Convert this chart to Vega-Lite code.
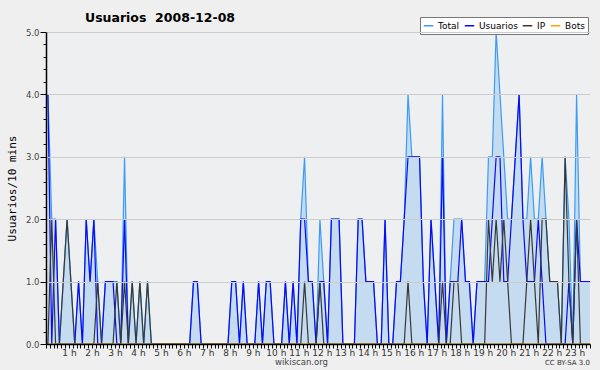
{
  "$schema": "https://vega.github.io/schema/vega-lite/v6.json",
  "width": 544,
  "height": 312,
  "autosize": {"type": "none"},
  "padding": {"left": 46, "top": 32, "right": 10, "bottom": 26},
  "background": "#efefef",
  "config": {"view": {"stroke": null, "fill": "#eeeff0"}, "font": "DejaVu Sans"},
  "title": {"text": "Usuarios\u00a0 2008-12-08", "anchor": "start", "frame": "group", "dx": 39, "dy": 15, "fontSize": 12.5, "fontWeight": "bold", "font": "DejaVu Sans", "color": "#000000", "offset": 7},
  "datasets": {"serie": [
    {"t":5,"Total":4,"Usuarios":4,"IP":0,"Bots":0},
    {"t":15,"Total":2,"Usuarios":0,"IP":2,"Bots":0},
    {"t":25,"Total":2,"Usuarios":2,"IP":0,"Bots":0},
    {"t":35,"Total":0,"Usuarios":0,"IP":0,"Bots":0},
    {"t":45,"Total":1,"Usuarios":0,"IP":1,"Bots":0},
    {"t":55,"Total":2,"Usuarios":0,"IP":2,"Bots":0},
    {"t":65,"Total":1,"Usuarios":0,"IP":1,"Bots":0},
    {"t":75,"Total":0,"Usuarios":0,"IP":0,"Bots":0},
    {"t":85,"Total":1,"Usuarios":1,"IP":0,"Bots":0},
    {"t":95,"Total":0,"Usuarios":0,"IP":0,"Bots":0},
    {"t":105,"Total":2,"Usuarios":2,"IP":0,"Bots":0},
    {"t":115,"Total":1,"Usuarios":1,"IP":0,"Bots":0},
    {"t":125,"Total":2,"Usuarios":2,"IP":0,"Bots":0},
    {"t":135,"Total":1,"Usuarios":0,"IP":1,"Bots":0},
    {"t":145,"Total":0,"Usuarios":0,"IP":0,"Bots":0},
    {"t":155,"Total":1,"Usuarios":1,"IP":0,"Bots":0},
    {"t":165,"Total":1,"Usuarios":1,"IP":0,"Bots":0},
    {"t":175,"Total":1,"Usuarios":1,"IP":0,"Bots":0},
    {"t":185,"Total":1,"Usuarios":0,"IP":1,"Bots":0},
    {"t":195,"Total":0,"Usuarios":0,"IP":0,"Bots":0},
    {"t":205,"Total":3,"Usuarios":2,"IP":1,"Bots":0},
    {"t":215,"Total":0,"Usuarios":0,"IP":0,"Bots":0},
    {"t":225,"Total":1,"Usuarios":0,"IP":1,"Bots":0},
    {"t":235,"Total":0,"Usuarios":0,"IP":0,"Bots":0},
    {"t":245,"Total":1,"Usuarios":0,"IP":1,"Bots":0},
    {"t":255,"Total":0,"Usuarios":0,"IP":0,"Bots":0},
    {"t":265,"Total":1,"Usuarios":0,"IP":1,"Bots":0},
    {"t":275,"Total":0,"Usuarios":0,"IP":0,"Bots":0},
    {"t":285,"Total":0,"Usuarios":0,"IP":0,"Bots":0},
    {"t":295,"Total":0,"Usuarios":0,"IP":0,"Bots":0},
    {"t":305,"Total":0,"Usuarios":0,"IP":0,"Bots":0},
    {"t":315,"Total":0,"Usuarios":0,"IP":0,"Bots":0},
    {"t":325,"Total":0,"Usuarios":0,"IP":0,"Bots":0},
    {"t":335,"Total":0,"Usuarios":0,"IP":0,"Bots":0},
    {"t":345,"Total":0,"Usuarios":0,"IP":0,"Bots":0},
    {"t":355,"Total":0,"Usuarios":0,"IP":0,"Bots":0},
    {"t":365,"Total":0,"Usuarios":0,"IP":0,"Bots":0},
    {"t":375,"Total":0,"Usuarios":0,"IP":0,"Bots":0},
    {"t":385,"Total":1,"Usuarios":1,"IP":0,"Bots":0},
    {"t":395,"Total":1,"Usuarios":1,"IP":0,"Bots":0},
    {"t":405,"Total":0,"Usuarios":0,"IP":0,"Bots":0},
    {"t":415,"Total":0,"Usuarios":0,"IP":0,"Bots":0},
    {"t":425,"Total":0,"Usuarios":0,"IP":0,"Bots":0},
    {"t":435,"Total":0,"Usuarios":0,"IP":0,"Bots":0},
    {"t":445,"Total":0,"Usuarios":0,"IP":0,"Bots":0},
    {"t":455,"Total":0,"Usuarios":0,"IP":0,"Bots":0},
    {"t":465,"Total":0,"Usuarios":0,"IP":0,"Bots":0},
    {"t":475,"Total":0,"Usuarios":0,"IP":0,"Bots":0},
    {"t":485,"Total":1,"Usuarios":1,"IP":0,"Bots":0},
    {"t":495,"Total":1,"Usuarios":1,"IP":0,"Bots":0},
    {"t":505,"Total":0,"Usuarios":0,"IP":0,"Bots":0},
    {"t":515,"Total":1,"Usuarios":1,"IP":0,"Bots":0},
    {"t":525,"Total":0,"Usuarios":0,"IP":0,"Bots":0},
    {"t":535,"Total":0,"Usuarios":0,"IP":0,"Bots":0},
    {"t":545,"Total":0,"Usuarios":0,"IP":0,"Bots":0},
    {"t":555,"Total":1,"Usuarios":1,"IP":0,"Bots":0},
    {"t":565,"Total":0,"Usuarios":0,"IP":0,"Bots":0},
    {"t":575,"Total":1,"Usuarios":1,"IP":0,"Bots":0},
    {"t":585,"Total":1,"Usuarios":1,"IP":0,"Bots":0},
    {"t":595,"Total":0,"Usuarios":0,"IP":0,"Bots":0},
    {"t":605,"Total":0,"Usuarios":0,"IP":0,"Bots":0},
    {"t":615,"Total":0,"Usuarios":0,"IP":0,"Bots":0},
    {"t":625,"Total":1,"Usuarios":1,"IP":0,"Bots":0},
    {"t":635,"Total":0,"Usuarios":0,"IP":0,"Bots":0},
    {"t":645,"Total":1,"Usuarios":1,"IP":0,"Bots":0},
    {"t":655,"Total":0,"Usuarios":0,"IP":0,"Bots":0},
    {"t":665,"Total":2,"Usuarios":2,"IP":0,"Bots":0},
    {"t":675,"Total":3,"Usuarios":2,"IP":1,"Bots":0},
    {"t":685,"Total":1,"Usuarios":1,"IP":0,"Bots":0},
    {"t":695,"Total":1,"Usuarios":1,"IP":0,"Bots":0},
    {"t":705,"Total":0,"Usuarios":0,"IP":0,"Bots":0},
    {"t":715,"Total":2,"Usuarios":1,"IP":1,"Bots":0},
    {"t":725,"Total":1,"Usuarios":1,"IP":0,"Bots":0},
    {"t":735,"Total":0,"Usuarios":0,"IP":0,"Bots":0},
    {"t":745,"Total":2,"Usuarios":2,"IP":0,"Bots":0},
    {"t":755,"Total":2,"Usuarios":2,"IP":0,"Bots":0},
    {"t":765,"Total":2,"Usuarios":2,"IP":0,"Bots":0},
    {"t":775,"Total":0,"Usuarios":0,"IP":0,"Bots":0},
    {"t":785,"Total":0,"Usuarios":0,"IP":0,"Bots":0},
    {"t":795,"Total":0,"Usuarios":0,"IP":0,"Bots":0},
    {"t":805,"Total":0,"Usuarios":0,"IP":0,"Bots":0},
    {"t":815,"Total":2,"Usuarios":2,"IP":0,"Bots":0},
    {"t":825,"Total":2,"Usuarios":2,"IP":0,"Bots":0},
    {"t":835,"Total":1,"Usuarios":1,"IP":0,"Bots":0},
    {"t":845,"Total":1,"Usuarios":1,"IP":0,"Bots":0},
    {"t":855,"Total":1,"Usuarios":1,"IP":0,"Bots":0},
    {"t":865,"Total":0,"Usuarios":0,"IP":0,"Bots":0},
    {"t":875,"Total":0,"Usuarios":0,"IP":0,"Bots":0},
    {"t":885,"Total":2,"Usuarios":2,"IP":0,"Bots":0},
    {"t":895,"Total":0,"Usuarios":0,"IP":0,"Bots":0},
    {"t":905,"Total":0,"Usuarios":0,"IP":0,"Bots":0},
    {"t":915,"Total":1,"Usuarios":1,"IP":0,"Bots":0},
    {"t":925,"Total":1,"Usuarios":1,"IP":0,"Bots":0},
    {"t":935,"Total":2,"Usuarios":2,"IP":0,"Bots":0},
    {"t":945,"Total":4,"Usuarios":3,"IP":1,"Bots":0},
    {"t":955,"Total":3,"Usuarios":3,"IP":0,"Bots":0},
    {"t":965,"Total":3,"Usuarios":3,"IP":0,"Bots":0},
    {"t":975,"Total":3,"Usuarios":3,"IP":0,"Bots":0},
    {"t":985,"Total":1,"Usuarios":1,"IP":0,"Bots":0},
    {"t":995,"Total":0,"Usuarios":0,"IP":0,"Bots":0},
    {"t":1005,"Total":2,"Usuarios":2,"IP":0,"Bots":0},
    {"t":1015,"Total":1,"Usuarios":1,"IP":0,"Bots":0},
    {"t":1025,"Total":0,"Usuarios":0,"IP":0,"Bots":0},
    {"t":1035,"Total":4,"Usuarios":3,"IP":1,"Bots":0},
    {"t":1045,"Total":0,"Usuarios":0,"IP":0,"Bots":0},
    {"t":1055,"Total":1,"Usuarios":1,"IP":0,"Bots":0},
    {"t":1065,"Total":2,"Usuarios":1,"IP":1,"Bots":0},
    {"t":1075,"Total":2,"Usuarios":1,"IP":1,"Bots":0},
    {"t":1085,"Total":2,"Usuarios":2,"IP":0,"Bots":0},
    {"t":1095,"Total":1,"Usuarios":1,"IP":0,"Bots":0},
    {"t":1105,"Total":1,"Usuarios":1,"IP":0,"Bots":0},
    {"t":1115,"Total":0,"Usuarios":0,"IP":0,"Bots":0},
    {"t":1125,"Total":1,"Usuarios":1,"IP":0,"Bots":0},
    {"t":1135,"Total":1,"Usuarios":1,"IP":0,"Bots":0},
    {"t":1145,"Total":1,"Usuarios":1,"IP":0,"Bots":0},
    {"t":1155,"Total":3,"Usuarios":1,"IP":2,"Bots":0},
    {"t":1165,"Total":3,"Usuarios":2,"IP":1,"Bots":0},
    {"t":1175,"Total":5,"Usuarios":3,"IP":2,"Bots":0},
    {"t":1185,"Total":4,"Usuarios":3,"IP":1,"Bots":0},
    {"t":1195,"Total":3,"Usuarios":1,"IP":2,"Bots":0},
    {"t":1205,"Total":2,"Usuarios":1,"IP":1,"Bots":0},
    {"t":1215,"Total":2,"Usuarios":2,"IP":0,"Bots":0},
    {"t":1225,"Total":3,"Usuarios":3,"IP":0,"Bots":0},
    {"t":1235,"Total":4,"Usuarios":4,"IP":0,"Bots":0},
    {"t":1245,"Total":2,"Usuarios":2,"IP":0,"Bots":0},
    {"t":1255,"Total":2,"Usuarios":1,"IP":1,"Bots":0},
    {"t":1265,"Total":3,"Usuarios":1,"IP":2,"Bots":0},
    {"t":1275,"Total":2,"Usuarios":1,"IP":1,"Bots":0},
    {"t":1285,"Total":2,"Usuarios":2,"IP":0,"Bots":0},
    {"t":1295,"Total":3,"Usuarios":1,"IP":2,"Bots":0},
    {"t":1305,"Total":2,"Usuarios":0,"IP":2,"Bots":0},
    {"t":1315,"Total":1,"Usuarios":0,"IP":1,"Bots":0},
    {"t":1325,"Total":1,"Usuarios":0,"IP":1,"Bots":0},
    {"t":1335,"Total":1,"Usuarios":0,"IP":1,"Bots":0},
    {"t":1345,"Total":0,"Usuarios":0,"IP":0,"Bots":0},
    {"t":1355,"Total":3,"Usuarios":0,"IP":3,"Bots":0},
    {"t":1365,"Total":2,"Usuarios":1,"IP":1,"Bots":0},
    {"t":1375,"Total":0,"Usuarios":0,"IP":0,"Bots":0},
    {"t":1385,"Total":4,"Usuarios":2,"IP":2,"Bots":0},
    {"t":1395,"Total":1,"Usuarios":1,"IP":0,"Bots":0},
    {"t":1405,"Total":1,"Usuarios":1,"IP":0,"Bots":0},
    {"t":1415,"Total":1,"Usuarios":1,"IP":0,"Bots":0},
    {"t":1425,"Total":1,"Usuarios":1,"IP":0,"Bots":0}
  ],
  "nota": [{"t": 1420, "valor": 0, "label": "CC BY-SA 3.0"}]},
  "data": {"name": "serie"},
  "encoding": {
    "x": {"field": "t", "type": "quantitative",
      "scale": {"domain": [0, 1420], "nice": false, "zero": false},
      "axis": {
        "title": "wikiscan.org",
        "values": [0,10,20,30,40,50,60,70,80,90,100,110,120,130,140,150,160,170,180,190,200,210,220,230,240,250,260,270,280,290,300,310,320,330,340,350,360,370,380,390,400,410,420,430,440,450,460,470,480,490,500,510,520,530,540,550,560,570,580,590,600,610,620,630,640,650,660,670,680,690,700,710,720,730,740,750,760,770,780,790,800,810,820,830,840,850,860,870,880,890,900,910,920,930,940,950,960,970,980,990,1000,1010,1020,1030,1040,1050,1060,1070,1080,1090,1100,1110,1120,1130,1140,1150,1160,1170,1180,1190,1200,1210,1220,1230,1240,1250,1260,1270,1280,1290,1300,1310,1320,1330,1340,1350,1360,1370,1380,1390,1400,1410,1420],
        "labelExpr": "datum.value % 60 === 0 && datum.value > 0 ? (datum.value / 60) + ' h' : ''",
        "tickSize": 4, "tickColor": "#000000", "domainColor": "#000000", "domainWidth": 1.5,
        "labelFontSize": 9, "labelColor": "#333333", "labelPadding": 0,
        "labelOverlap": false, "labelFlush": false, "labelBound": false, "grid": false,
        "titleFontSize": 8.5, "titleFontWeight": "normal", "titleColor": "#444444", "titlePadding": 0,
        "titleX": 255, "titleAlign": "center", "zindex": 1
      }
    },
    "y": {"field": "valor", "type": "quantitative",
      "scale": {"domain": [0, 5], "nice": false},
      "axis": {
        "title": "Usuarios/10 mins",
        "values": [0,0.2,0.4,0.6,0.8,1,1.2,1.4,1.6,1.8,2,2.2,2.4,2.6,2.8,3,3.2,3.4,3.6,3.8,4,4.2,4.4,4.6,4.8,5],
        "labelExpr": "abs(datum.value - round(datum.value)) < 0.001 ? format(datum.value, '.1f') : ''",
        "gridColor": "#cccccc",
        "gridOpacity": {"condition": {"test": "abs(datum.value - round(datum.value)) < 0.001 && datum.value > 0.5", "value": 1}, "value": 0},
        "tickSize": {"condition": {"test": "abs(datum.value - round(datum.value)) < 0.001", "value": 6}, "value": 3},
        "tickColor": "#000000", "domainColor": "#000000", "domainWidth": 1.5,
        "labelFontSize": 8.5, "labelColor": "#444444", "labelPadding": 1,
        "labelOverlap": false, "labelFlush": false, "labelBound": false,
        "titleFont": "DejaVu Sans Mono", "titleFontSize": 11, "titleFontWeight": "normal", "titleColor": "#000000", "titlePadding": 8,
        "zindex": 1
      }
    }
  },
  "layer": [
    {
      "transform": [{"fold": ["Total"], "as": ["serie", "valor"]}],
      "mark": {"type": "area", "color": "#c5dcf0", "opacity": 1, "clip": true}
    },
    {
      "transform": [{"fold": ["Total", "Usuarios", "IP", "Bots"], "as": ["serie", "valor"]}],
      "mark": {"type": "line", "strokeWidth": 1.2, "clip": true},
      "encoding": {
        "color": {"field": "serie", "type": "nominal",
          "scale": {"domain": ["Total", "Usuarios", "IP", "Bots"], "range": ["#3a9cf6", "#0a0af5", "#383838", "#ffa500"]},
          "legend": {
            "title": null, "orient": "none", "legendX": 374, "legendY": -15, "direction": "horizontal",
            "fillColor": "#ffffff", "strokeColor": "#777777", "padding": 3,
            "symbolType": "stroke", "symbolStrokeWidth": 1.5, "symbolSize": 90,
            "labelFontSize": 9, "labelFont": "DejaVu Sans", "labelColor": "#000000",
            "labelOffset": 4, "columnPadding": 1
          }
        }
      }
    },
    {
      "data": {"name": "nota"},
      "mark": {"type": "text", "align": "right", "baseline": "middle", "dy": 19, "fontSize": 7, "color": "#333333"},
      "encoding": {
        "text": {"field": "label"}
      }
    }
  ]
}
